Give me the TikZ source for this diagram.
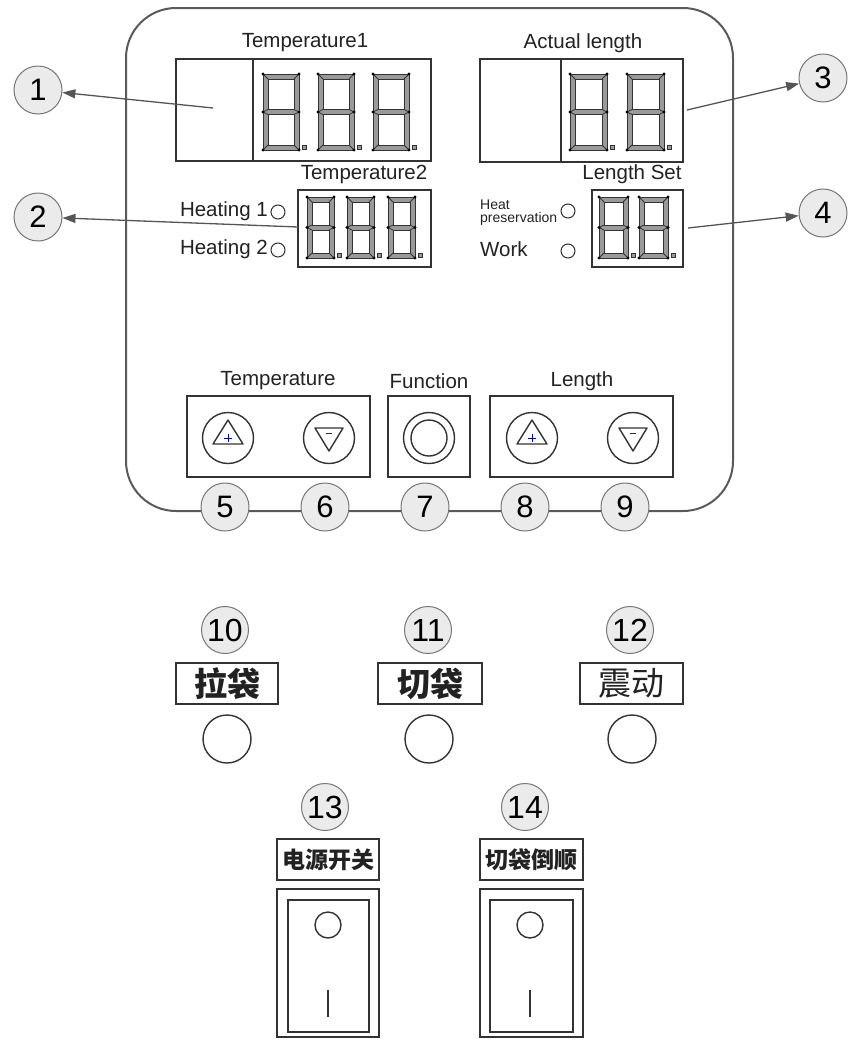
\documentclass[tikz,border=0pt]{standalone}
\usepackage{fontspec}
\setmainfont{Liberation Sans}
\newfontfamily\cjk{Noto Sans CJK SC}
\usetikzlibrary{arrows.meta}
\definecolor{ln}{HTML}{333333}
\definecolor{pn}{HTML}{5A5A5A}
\definecolor{ar}{HTML}{555555}
\definecolor{numfill}{HTML}{EBEBEB}
\definecolor{numline}{HTML}{777777}
\definecolor{segfill}{HTML}{9A9A9A}
\definecolor{txt}{HTML}{222222}
\tikzset{
  segline/.style={draw=ln,line width=0.8pt},
  dispbox/.style={draw=ln,line width=1.4pt},
  lbl/.style={text=txt,font=\fontsize{20.5}{24}\selectfont,inner sep=0pt},
  smalllbl/.style={text=txt,font=\fontsize{14}{15}\selectfont,inner sep=0pt,align=left},
  numc/.style={circle,draw=numline,fill=numfill,line width=1pt,minimum size=48pt,inner sep=0pt,text=black,font=\fontsize{31}{31}\selectfont},
  numcs/.style={circle,draw=numline,fill=numfill,line width=1pt,minimum size=47pt,inner sep=0pt,text=black,font=\fontsize{32}{32}\selectfont},
  led/.style={circle,draw=ln,line width=1pt,minimum size=14pt,inner sep=0pt},
  btn/.style={circle,draw=ln,line width=1.4pt,minimum size=51pt,inner sep=0pt},
  bigbtn/.style={circle,draw=ln,line width=1.4pt,minimum size=48pt,inner sep=0pt},
  cjkbox/.style={draw=ln,line width=1.6pt,inner sep=0pt,text=txt},
  callout/.style={draw=ar,line width=1.3pt,-{Triangle[length=13pt,width=9pt]}},
}
\newcommand{\sseg}[5]{%
\begin{scope}[shift={(#1,#2)}]
 \fill[segfill,even odd rule] (0,0) rectangle (#3,#4) (#5,#5) rectangle ({#3-#5},{#4/2-#5/2}) (#5,{#4/2+#5/2}) rectangle ({#3-#5},{#4-#5});
 \draw[segline] (0,0) rectangle (#3,#4) (#5,#5) rectangle ({#3-#5},{#4/2-#5/2}) (#5,{#4/2+#5/2}) rectangle ({#3-#5},{#4-#5});
 \draw[segline] (0,0)--(#5,#5) (#3,0)--({#3-#5},#5) (0,#4)--(#5,{#4-#5}) (#3,#4)--({#3-#5},{#4-#5})
   (#5,{#4/2-#5/2})--(0,{#4/2})--(#5,{#4/2+#5/2}) ({#3-#5},{#4/2-#5/2})--(#3,{#4/2})--({#3-#5},{#4/2+#5/2});
 \fill[black] (0,0) circle (1.6) (#3,0) circle (1.6) (0,{#4/2}) circle (1.6) (#3,{#4/2}) circle (1.6) (0,#4) circle (1.6) (#3,#4) circle (1.6);
 \draw[segline,fill=segfill] ({#3+3},{#4-5}) rectangle ({#3+7},{#4-1});
\end{scope}}
\begin{document}
\begin{tikzpicture}[x=1pt,y=-1pt]
\useasboundingbox (0,0) rectangle (848,1039);
\fill[white] (0,0) rectangle (848,1039);

% main panel
\draw[draw=pn,line width=2pt,rounded corners=50pt] (126,8) rectangle (733,511);

% ---- Temperature1 display
\node[lbl] (tT1) at (305,43) {Temperature1};
\draw[dispbox] (176,59) rectangle (431,161);
\draw[dispbox] (253,59) -- (253,161);
\sseg{263}{74}{36}{76}{5}
\sseg{318}{74}{36}{76}{5}
\sseg{373}{74}{36}{76}{5}
\coordinate (a1) at (213,108);

% ---- Temperature2 display
\node[lbl] (tT2) at (364,174) {Temperature2};
\draw[dispbox] (298,190) rectangle (431,267);
\sseg{307}{197}{27}{61}{5}
\sseg{347}{197}{27}{61}{5}
\sseg{388}{197}{27}{61}{5}
\coordinate (a2) at (298,227);
\node[lbl,anchor=east] (h1) at (268,211) {Heating 1};
\node[lbl,anchor=east] (h2) at (268,249) {Heating 2};
\node[led] (lh1) at (278,212) {};
\node[led] (lh2) at (278,250) {};

% ---- Actual length display
\node[lbl] (tAL) at (583,43) {Actual length};
\draw[dispbox] (480,59) rectangle (683,162);
\draw[dispbox] (561,59) -- (561,162);
\sseg{570}{74}{37}{76}{5}
\sseg{627}{74}{37}{76}{5}
\coordinate (a3) at (687,110);

% ---- Length Set display
\node[lbl] (tLS) at (632,174) {Length Set};
\draw[dispbox] (592,190) rectangle (683,267);
\sseg{599}{197}{29}{61}{5}
\sseg{639}{197}{29}{61}{5}
\coordinate (a4) at (688,228);
\node[smalllbl,anchor=north west] (hp) at (480,200) {Heat\\[-2pt]preservation};
\node[lbl,anchor=west] (wk) at (480,249) {Work};
\node[led] (lhp) at (568,211) {};
\node[led] (lwk) at (568,251) {};

% ---- callout circles 1-4
\node[numc] (n1) at (38,90) {1};
\node[numc] (n2) at (38,217) {2};
\node[numc] (n3) at (823,78) {3};
\node[numc] (n4) at (823,213) {4};
\draw[callout] (a1) -- (n1);
\draw[callout] (a2) -- (n2);
\draw[callout] (a3) -- (n3);
\draw[callout] (a4) -- (n4);

% ---- button row
\node[lbl] (tTe) at (278,381) {Temperature};
\node[lbl] (tFu) at (429,381) {Function};
\node[lbl] (tLe) at (582,381) {Length};
\draw[dispbox] (187,396) rectangle (370,477);
\draw[dispbox] (388,396) rectangle (470,477);
\draw[dispbox] (490,396) rectangle (673,477);

\node[btn] (bTu) at (228,438) {};
\node[btn] (bTd) at (329,438) {};
\node[btn] (bF) at (429,438) {};
\node[circle,draw=ln,line width=1.4pt,minimum size=36pt,inner sep=0pt] (bFi) at (429,438) {};
\node[btn] (bLu) at (532,438) {};
\node[btn] (bLd) at (633,438) {};

\foreach \c in {bTu,bLu}{
  \draw[ln,line width=1.4pt,line join=round] ([shift={(0,-18)}]\c.center) -- ([shift={(15,6)}]\c.center) -- ([shift={(-15,6)}]\c.center) -- cycle;
  \draw[blue!60!black,line width=1pt] ([shift={(-4,0)}]\c.center) -- ([shift={(4,0)}]\c.center) ([shift={(0,-4)}]\c.center) -- ([shift={(0,4)}]\c.center);
}
\foreach \c in {bTd,bLd}{
  \draw[ln,line width=1.4pt,line join=round] ([shift={(-14,-10)}]\c.center) -- ([shift={(14,-10)}]\c.center) -- ([shift={(0,13)}]\c.center) -- cycle;
  \draw[ln,line width=1pt] ([shift={(-3,-5)}]\c.center) -- ([shift={(3,-5)}]\c.center);
}

\node[numc] (n5) at (225,507) {5};
\node[numc] (n6) at (325,507) {6};
\node[numc] (n7) at (425,507) {7};
\node[numc] (n8) at (525,507) {8};
\node[numc] (n9) at (625,507) {9};

% ---- lower buttons
\node[numcs] (n10) at (225,630) {10};
\node[numcs] (n11) at (428,630) {11};
\node[numcs] (n12) at (630,630) {12};
\node[cjkbox,minimum width=102pt,minimum height=41pt,font=\cjk\bfseries\fontsize{33}{33}\selectfont] (l10) at (227,683.5) {拉袋};
\node[cjkbox,minimum width=104pt,minimum height=41pt,font=\cjk\bfseries\fontsize{33}{33}\selectfont] (l11) at (430,683.5) {切袋};
\node[cjkbox,minimum width=103pt,minimum height=41pt,font=\cjk\fontsize{33}{33}\selectfont] (l12) at (631.5,683.5) {震动};
\node[bigbtn] (b10) at (227,739) {};
\node[bigbtn] (b11) at (429,739) {};
\node[bigbtn] (b12) at (632,739) {};

% ---- rocker switches
\node[numcs] (n13) at (325,807) {13};
\node[numcs] (n14) at (525,807) {14};
\node[cjkbox,minimum width=102pt,minimum height=41pt,font=\cjk\bfseries\fontsize{23}{23}\selectfont] (l13) at (328,859.5) {电源开关};
\node[cjkbox,minimum width=103pt,minimum height=41pt,font=\cjk\bfseries\fontsize{23}{23}\selectfont] (l14) at (531.5,859.5) {切袋倒顺};

\draw[dispbox] (277,889) rectangle (379,1037);
\draw[dispbox] (288,900) rectangle (369,1032);
\node[circle,draw=ln,line width=1.4pt,minimum size=26pt,inner sep=0pt] (s13) at (328,925) {};
\draw[ln,line width=1.4pt] (328,990) -- (328,1017);

\draw[dispbox] (480,889) rectangle (583,1037);
\draw[dispbox] (490,900) rectangle (573,1032);
\node[circle,draw=ln,line width=1.4pt,minimum size=26pt,inner sep=0pt] (s14) at (530,925) {};
\draw[ln,line width=1.4pt] (530,990) -- (530,1017);
\end{tikzpicture}
\end{document}
